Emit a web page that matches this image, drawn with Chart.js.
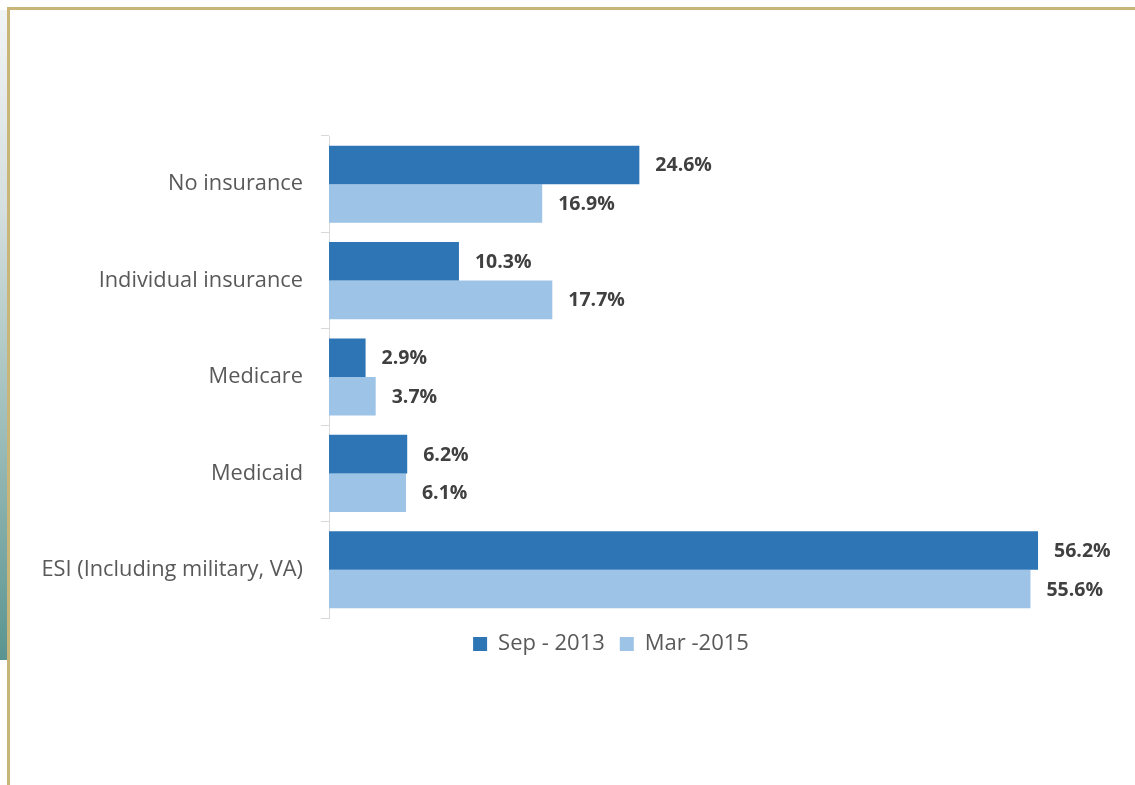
<!DOCTYPE html>
<html>
<head>
<meta charset="utf-8">
<script src="https://cdn.jsdelivr.net/npm/chart.js@4"></script>
<style>
  html, body { margin: 0; padding: 0; background: #ffffff; }
  body { width: 1135px; height: 785px; position: relative; overflow: hidden; }
  .strip { position: absolute; left: 0; top: 10px; width: 7px; height: 650px;
           background: linear-gradient(to bottom, #f1f4f4, #d5dfde 30%, #9dbdb9 65%, #5a9490); }
  .frame-top { position: absolute; left: 7px; top: 7px; right: 0; height: 3px; background: #c9b57a; }
  .frame-left { position: absolute; left: 7px; top: 7px; width: 3px; bottom: 0; background: #c9b57a; }
  .chart-box { position: absolute; left: 0; top: 0; width: 1135px; height: 785px; }
</style>
</head>
<body>
<div class="strip"></div>
<div class="frame-top"></div>
<div class="frame-left"></div>
<div class="chart-box"><canvas id="coverageChart"></canvas></div>
<script>
    const categories = ['No insurance', 'Individual insurance', 'Medicare', 'Medicaid', 'ESI (Including military, VA)'];
    const sep2013 = [24.6, 10.3, 2.9, 6.2, 56.2];
    const mar2015 = [16.9, 17.7, 3.7, 6.1, 55.6];
    const seriesNames = ['Sep - 2013', 'Mar -2015'];

    const fontFamily = '"Open Sans", "Noto Sans", sans-serif';

    // value labels at the end of each bar
    const barValueLabels = {
        id: 'barValueLabels',
        afterDatasetsDraw(chart) {
            const ctx = chart.ctx;
            ctx.save();
            ctx.font = `bold 19.5px ${fontFamily}`;
            ctx.fillStyle = '#404040';
            ctx.textAlign = 'left';
            ctx.textBaseline = 'middle';
            chart.data.datasets.forEach((ds, i) => {
                chart.getDatasetMeta(i).data.forEach((bar, j) => {
                    ctx.fillText(ds.data[j].toFixed(1) + '%', bar.x + 16, bar.y + 1);
                });
            });
            ctx.restore();
        }
    };

    // legend sits centred under the plot rather than the whole canvas
    const legendShift = {
        id: 'legendShift',
        beforeDraw(chart) {
            if (chart.legend) chart.legend.left += 107;
        }
    };

    const ctx = document.getElementById('coverageChart').getContext('2d');
    new Chart(ctx, {
        type: 'bar',
        data: {
            labels: categories,
            datasets: [
                { label: seriesNames[0], data: sep2013, backgroundColor: '#2e75b6' },
                { label: seriesNames[1], data: mar2015, backgroundColor: '#9dc3e6' }
            ]
        },
        options: {
            indexAxis: 'y',
            responsive: true,
            maintainAspectRatio: false,
            animation: false,
            datasets: { bar: { categoryPercentage: 0.8, barPercentage: 1.0 } },
            layout: { padding: { top: 136, left: 0, right: 20, bottom: 120 } },
            plugins: {
                legend: {
                    position: 'bottom',
                    labels: {
                        boxWidth: 14,
                        boxHeight: 14,
                        padding: 15,
                        color: '#595959',
                        font: { family: fontFamily, size: 22 }
                    }
                },
                tooltip: { enabled: false }
            },
            scales: {
                x: { display: false, min: 0, max: 62.3 },
                y: {
                    afterFit(scale) { scale.width = 329; },
                    grid: { display: true, drawOnChartArea: false, tickLength: 8, color: '#d9d9d9', offset: true },
                    border: { display: true, color: '#d9d9d9' },
                    ticks: { color: '#595959', padding: 18, font: { family: fontFamily, size: 21.8 } }
                }
            }
        },
        plugins: [barValueLabels, legendShift]
    });
</script>
</body>
</html>
